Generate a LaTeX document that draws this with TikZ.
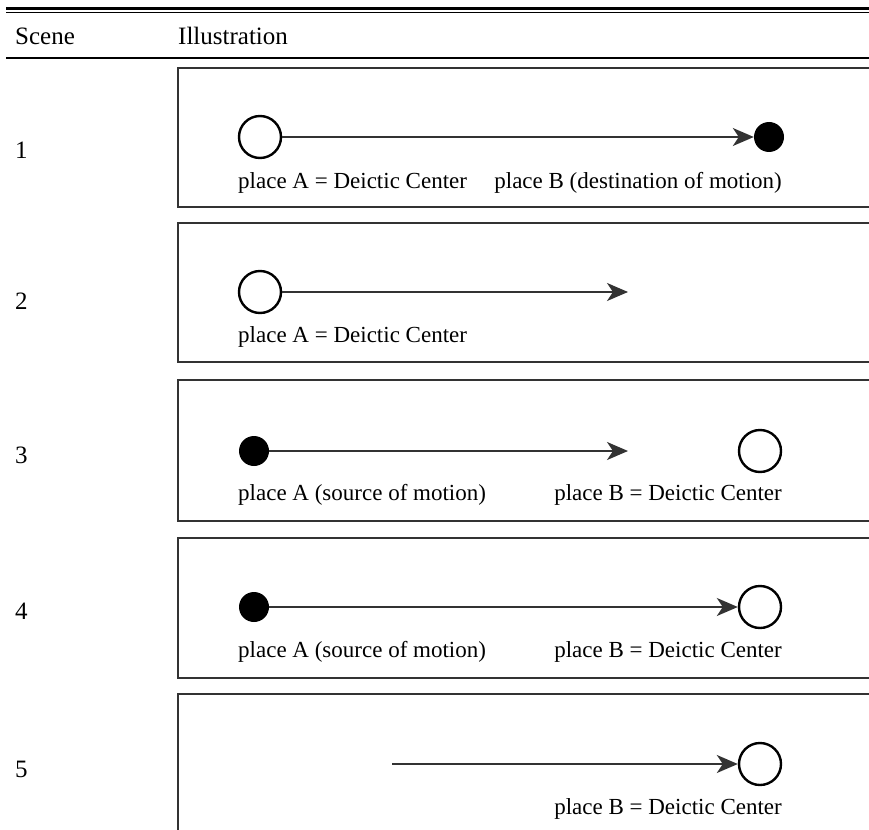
\documentclass[tikz,border=0pt]{standalone}
\usepackage{fontspec}
\setmainfont{Liberation Serif}
\usetikzlibrary{arrows.meta}

\begin{document}
\begin{tikzpicture}[x=1pt,y=-1pt,>={Stealth[length=21pt,width=18pt,inset=6pt]},
    font=\fontsize{23}{27}\selectfont,
    place/.style={circle,draw,line width=2.4pt,minimum size=42pt,inner sep=0pt},
    goal/.style={circle,fill,minimum size=30pt,inner sep=0pt},
    frame/.style={draw=black!80,line width=2pt},
    lab/.style={anchor=base west,inner sep=0pt},
    labr/.style={anchor=base east,inner sep=0pt},
    head/.style={lab,font=\fontsize{25}{29}\selectfont},
    motion/.style={->,draw=black!80,line width=1.8pt}]
    \clip (0,0) rectangle (869,829);
    \fill[white] (0,0) rectangle (869,829);
    % table rules and head
    \draw[line width=2.6pt] (6,8.3) -- (880,8.3);
    \draw[line width=1.3pt] (6,12.7) -- (880,12.7);
    \draw[line width=2pt] (6,57.7) -- (880,57.7);
    \node[head] (scene) at (15,45) {Scene};
    \node[head] (illu) at (178,45) {Illustration};
    % frames
    \draw[frame] (880,68) -| (178,207) -- (880,207);
    \draw[frame] (880,223) -| (178,362) -- (880,362);
    \draw[frame] (880,380) -| (178,521) -- (880,521);
    \draw[frame] (880,538) -| (178,678) -- (880,678);
    \draw[frame] (880,694) -| (178,840);
    % scene numbers
    \node[head] (n1) at (15,159) {1};
    \node[head] (n2) at (15,309) {2};
    \node[head] (n3) at (15,463) {3};
    \node[head] (n4) at (15,619) {4};
    \node[head] (n5) at (15,777) {5};
    % scene 1
    \node[place] (a1) at (260,137) {};
    \node[goal] (b1) at (769,137) {};
    \node[lab] at (238,189) {place A = Deictic Center};
    \node[labr] at (782,189) {place B (destination of motion)};
    % scene 2
    \node[place] (a2) at (260,292) {};
    \coordinate (e2) at (628,292);
    \node[lab] at (238,342) {place A = Deictic Center};
    % scene 3
    \node[goal] (a3) at (254,451) {};
    \coordinate (e3) at (628,451);
    \node[place] (b3) at (760,451) {};
    \node[lab] at (238,500) {place A (source of motion)};
    \node[labr] at (782,500) {place B = Deictic Center};
    % scene 4
    \node[goal] (a4) at (254,607) {};
    \node[place] (b4) at (760,607) {};
    \node[lab] at (238,657) {place A (source of motion)};
    \node[labr] at (782,657) {place B = Deictic Center};
    % scene 5
    \coordinate (s5) at (392,764);
    \node[place] (b5) at (760,764) {};
    \node[labr] at (782,814) {place B = Deictic Center};
    \path
    (a1) edge[motion] (b1)
    (a2) edge[motion] (e2)
    (a3) edge[motion] (e3)
    (a4) edge[motion] (b4)
    (s5) edge[motion] (b5);
\end{tikzpicture}
\end{document}
